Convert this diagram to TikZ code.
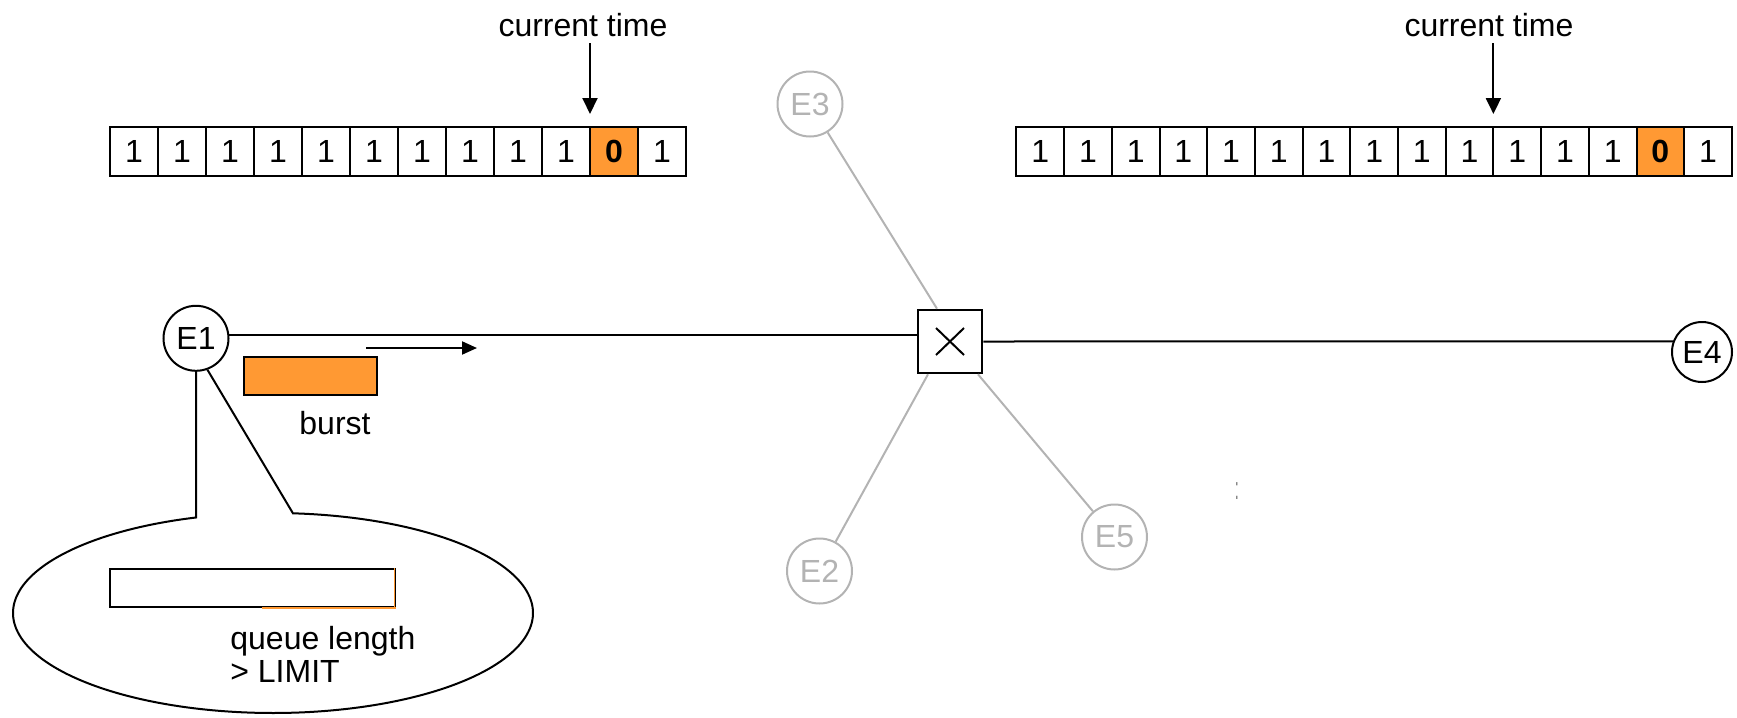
\documentclass[tikz,border=0pt]{standalone}
\usepackage{fontspec}
\setmainfont{Liberation Sans}
\usetikzlibrary{arrows.meta}
\definecolor{burstor}{HTML}{FF9933}
\definecolor{ghost}{HTML}{B3B3B3}
\newcommand\myfs{\fontsize{16}{18}\selectfont}
\begin{document}
\begin{tikzpicture}[x=0.5pt,y=-0.5pt, font=\myfs,
  cell/.style={draw, line width=1pt, minimum width=24pt, minimum height=24.5pt, inner sep=0pt, outer sep=0pt},
  rcell/.style={cell, minimum width=23.85pt},
  hot/.style={fill=burstor, font=\myfs\bfseries},
  ep/.style={circle, draw, line width=1pt, minimum size=32.5pt, inner sep=0pt},
  gep/.style={ep, draw=ghost, text=ghost},
  gline/.style={draw=ghost, line width=1pt},
  bline/.style={line width=1pt},
  arr/.style={line width=1pt, -{Triangle[length=8pt,width=7.5pt]}},
  sarr/.style={line width=1pt, -{Triangle[length=7.5pt,width=6.5pt]}},
  plain/.style={inner sep=0pt}]
\useasboundingbox (0,0) rectangle (1737,718);

% left time array
\foreach \i in {0,...,9,11} { \node[cell] (L\i) at ({134+48*\i},151.5) {1}; }
\node[cell,hot] (L10) at ({134+48*10},151.5) {0};
\node[plain] (ct1) at (583,25) {current time};
\draw[arr] ([yshift=42pt]L10.north west) -- ([yshift=6.5pt]L10.north west);

% right time array
\foreach \i in {0,...,12,14} { \node[rcell] (R\i) at ({1040.25+47.7*\i},151.5) {1}; }
\node[rcell,hot] (R13) at ({1040.25+47.7*13},151.5) {0};
\node[plain] (ct2) at (1489,25) {current time};
\draw[arr] ([yshift=42pt]R10.north west) -- ([yshift=6.5pt]R10.north west);

% endpoints and switch
\node[ep] (E1) at (196,338.3) {E1};
\node[ep, minimum size=30pt] (E4) at (1702,352) {E4};
\node[gep] (E3) at (810,104) {E3};
\node[gep] (E2) at (819.5,571) {E2};
\node[gep] (E5) at (1114.5,537) {E5};
\node[draw, line width=1.3pt, minimum width=32pt, minimum height=31.5pt, inner sep=0pt] (SW) at (950,341.5) {};
\draw[line width=1pt] ([shift={(-7pt,6.75pt)}]SW.center) -- ([shift={(7pt,-6.75pt)}]SW.center);
\draw[line width=1pt] ([shift={(-7pt,-6.75pt)}]SW.center) -- ([shift={(7pt,6.75pt)}]SW.center);

\draw[gline] (E3) -- ([xshift=-6.5pt]SW.north);
\draw[gline] (E2) -- ([xshift=-11pt]SW.south);
\draw[gline] (E5) -- ([xshift=14pt]SW.south);

\draw[bline] (E1.5) -- (E1.5 -| SW.west);
\draw[bline] (SW.east) -- (E4.160);

% burst
\node[draw, fill=burstor, line width=1pt, minimum width=66.5pt, minimum height=19pt, inner sep=0pt] (B) at (310.5,376) {};
\node[plain] (bt) at (335,423) {burst};
\draw[sarr] ([shift={(27.75pt,4pt)}]B.north) -- ([shift={(83.25pt,4pt)}]B.north);

% callout
\coordinate (t1) at ({273+260*cos(107.2)},{613-100*sin(107.2)});
\draw[bline, line join=miter] (E1.south) -- (t1) -- plot[domain=-252.8:85.6, samples=300] ({273+260*cos(\x)},{613-100*sin(\x)}) -- (E1.-70.5);

\node[draw, line width=1pt, minimum width=142.5pt, minimum height=19pt, inner sep=0pt] (Q) at (252.5,588) {};
\draw[burstor, line width=0.9pt] ([xshift=-67pt]Q.south east) -- (Q.south east);
\draw[burstor, line width=0.4pt] ([xshift=-0.6pt]Q.south east) -- ([xshift=-0.6pt]Q.north east);
\node[plain, align=left, anchor=west, font=\fontsize{16}{16.5}\selectfont] (ql) at (230,654.5) {queue length\\> LIMIT};

\node[plain, text=black!75] (dots) at (1237,491) {\scalebox{0.3}[1]{:}};
\end{tikzpicture}
\end{document}
